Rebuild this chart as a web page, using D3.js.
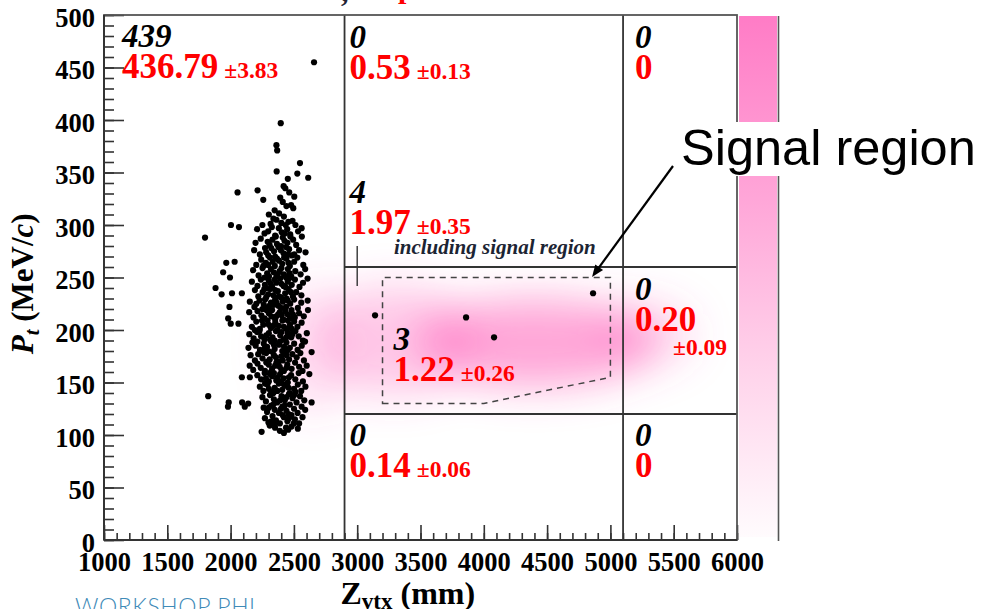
<!DOCTYPE html>
<html>
<head>
<meta charset="utf-8">
<script src="https://cdn.jsdelivr.net/npm/d3@7"></script>
<style>
  html, body { margin: 0; padding: 0; background: #fff; }
  svg { display: block; }
</style>
</head>
<body>
<svg id="chart" width="981" height="609"></svg>
<script>
// ---- axes ----
const zvtxDomain = [1000, 6000];
const ptDomain = [0, 500];
const zvtxTicks = [1000, 1500, 2000, 2500, 3000, 3500, 4000, 4500, 5000, 5500, 6000];
const ptTicks = [0, 50, 100, 150, 200, 250, 300, 350, 400, 450, 500];

// ---- region boundaries (mm, MeV/c) ----
const zvtxCuts = [2900, 5100];
const ptCuts = [120, 260];

// ---- signal region outline ----
const signalRegion = [[3200, 130], [4000, 130], [5000, 155], [5000, 250], [3200, 250]];

// ---- observed / expected per region ----
const regionNames   = ["left", "topMid", "topRight", "midUpper", "signalBox", "midRight", "botMid", "botRight"];
const observedCount = ["439", "0", "0", "4", "3", "0", "0", "0"];
const expectedBkg   = ["436.79", "0.53", "0", "1.97", "1.22", "0.20", "0.14", "0"];
const expectedErr   = ["\u00b13.83", "\u00b10.13", "", "\u00b10.35", "\u00b10.26", "\u00b10.09", "\u00b10.06", ""];

// ---- events in the wide Zvtx region ----
const eventsMid = [[3141, 214], [3860, 212], [4081, 193], [4863, 235]];

// ---- events in the upstream (Zvtx < 2900 mm) region ----
const eventsUpstream = [
  [2659,455],[2396,397],[2362,376],[2368,371],[2364,351],[2548,359],[2527,349],[2613,345],[2452,344],
  [2419,337],[2463,331],[2055,331],[2213,333],[2432,335],[2258,324],[2392,326],[2412,322],[2503,327],
  [2478,319],[2495,316],[2348,314],[2383,311],[2441,318],[2302,310],[2338,306],[2401,302],[2457,303],
  [2512,300],[2489,304],[2251,300],[2003,300],[2066,298],[2421,308],[2362,305],[2316,301],[2435,300],
  [2209,296],[2297,294],[2381,297],[2428,292],[2471,291],[2533,294],[2352,290],[2268,292],[2404,293],
  [2561,297],[2326,298],[2447,296],
  [1798,288],[2238,287],[2293,284],[2331,286],[2366,282],[2412,288],[2449,283],[2494,286],[2518,281],
  [2563,289],[2308,281],[2398,280],[2472,289],[2197,283],[2357,289],[2426,285],
  [2186,276],[2231,272],[2272,278],[2297,271],[2343,275],[2378,279],[2418,273],[2462,277],[2503,272],
  [2541,276],[2592,274],[2352,270],[2438,279],[2281,274],[2484,271],[2397,276],[2321,278],[2454,272],
  [1966,264],[2032,265],[2203,262],[2242,267],[2278,264],[2311,269],[2349,261],[2382,266],[2408,263],
  [2441,268],[2468,261],[2502,265],[2527,269],[2574,262],[2333,265],[2259,261],[2423,269],[2457,264],
  [2366,268],[2296,262],
  [1941,255],[1995,250],[2178,257],[2221,252],[2252,259],[2289,254],[2318,258],[2362,251],[2387,256],
  [2421,253],[2452,258],[2479,251],[2511,256],[2553,253],[2589,258],[2341,255],[2268,250],[2438,250],
  [2402,259],[2303,251],[2466,254],[2372,253],
  [1881,240],[2168,246],[2212,242],[2239,248],[2271,243],[2302,247],[2328,241],[2361,245],[2392,249],
  [2418,242],[2451,246],[2483,243],[2508,248],[2544,241],[2572,245],[2608,249],[2348,248],[2282,240],
  [2462,249],[2401,244],[2317,244],[2433,241],
  [1929,234],[2011,235],[2089,235],[2192,238],[2219,232],[2253,236],[2281,231],[2312,239],[2338,233],
  [2373,237],[2398,231],[2431,235],[2458,239],[2492,232],[2518,236],[2559,233],[2297,234],[2442,230],
  [2382,232],[2352,238],[2266,239],[2476,236],
  [1991,222],[2152,227],[2188,222],[2229,228],[2262,224],[2291,221],[2319,226],[2352,229],[2377,223],
  [2412,227],[2438,222],[2471,225],[2502,229],[2531,221],[2558,226],[2609,228],[2341,224],[2272,229],
  [2452,228],[2398,221],[2203,225],[2363,226],[2426,229],[2306,223],
  [1981,211],[2147,217],[2181,212],[2212,218],[2243,214],[2268,211],[2302,216],[2328,219],[2361,213],
  [2389,217],[2418,210],[2449,215],[2481,219],[2507,212],[2541,216],[2578,213],[2611,219],[2352,210],
  [2283,219],[2432,218],[2251,220],[2403,214],[2468,211],[2322,213],[2376,215],[2492,215],
  [2001,206],[2062,206],[2168,203],[2203,208],[2231,201],[2258,205],[2292,209],[2318,202],[2353,207],
  [2381,204],[2409,209],[2442,201],[2469,205],[2502,208],[2528,203],[2561,207],[2302,205],[2371,200],
  [2421,203],[2248,209],[2483,201],[2338,204],[2452,209],[2191,200],
  [2148,196],[2182,192],[2209,198],[2241,194],[2268,191],[2302,197],[2331,193],[2358,199],[2392,195],
  [2418,191],[2451,197],[2479,193],[2512,199],[2538,194],[2571,190],[2602,197],[2282,195],[2348,190],
  [2402,198],[2441,193],[2312,191],[2488,196],[2228,199],
  [2141,183],[2172,188],[2198,185],[2232,181],[2262,187],[2288,184],[2321,189],[2348,182],[2382,186],
  [2408,180],[2441,188],[2468,183],[2502,187],[2529,181],[2562,185],[2588,189],[2298,180],[2342,186],
  [2422,184],[2271,183],[2391,189],[2452,181],[2212,189],
  [2640,179],[2158,176],[2192,171],[2218,177],[2252,173],[2281,178],[2309,172],[2342,176],[2369,170],
  [2401,175],[2429,179],[2462,172],[2488,177],[2522,174],[2551,178],[2579,171],[2332,179],[2291,170],
  [2412,171],[2441,176],[2262,179],[2358,174],
  [2151,166],[2179,162],[2212,168],[2238,164],[2271,161],[2302,167],[2328,163],[2362,169],[2388,165],
  [2421,161],[2448,167],[2482,163],[2509,169],[2541,165],[2568,161],[2601,166],[2318,160],[2381,170],
  [2442,164],[2282,169],[2402,162],[2352,166],
  [2089,155],[2152,155],[2211,157],[2241,153],[2269,159],[2302,151],[2328,156],[2361,152],[2391,158],
  [2419,154],[2452,150],[2478,157],[2511,153],[2538,159],[2571,151],[2622,158],[2342,159],[2279,154],
  [2401,151],[2461,155],[2311,158],[2372,155],
  [2231,146],[2259,142],[2291,148],[2322,141],[2348,145],[2381,149],[2408,143],[2442,147],[2468,140],
  [2501,144],[2531,148],[2558,142],[2591,146],[2302,144],[2338,140],[2421,148],[2369,142],[2458,145],
  [2272,149],[2512,141],
  [1823,137],[1985,131],[2091,131],[2251,136],[2279,132],[2311,138],[2342,134],[2368,131],[2402,137],
  [2428,133],[2461,139],[2489,135],[2521,131],[2548,137],[2582,133],[2640,131],[2322,139],[2391,133],
  [2441,136],[2502,138],
  [1979,127],[2112,127],[2139,130],[2261,126],[2288,122],[2321,128],[2349,124],[2382,121],[2409,127],
  [2441,123],[2468,129],[2501,125],[2529,121],[2561,127],[2589,124],[2338,129],[2398,125],[2458,120],
  [2302,126],[2428,128],
  [2271,116],[2299,112],[2331,118],[2358,114],[2389,111],[2421,117],[2449,113],[2481,119],[2508,115],
  [2541,111],[2568,117],[2349,110],[2411,119],[2461,116],[2322,113],[2499,111],
  [2245,103],[2455,105],[2351,107],[2389,104],[2481,108],[2421,102],[2309,109],[2531,106],[2438,107]
];

// ---- expected-background density (smoothed) ----
const bkgDensity = [
  { z: 4400, pt: 188, sz: 950, spt: 42, w: 0.5 },
  { z: 3300, pt: 190, sz: 650, spt: 52, w: 0.3 },
  { z: 5250, pt: 196, sz: 400, spt: 30, w: 0.24 },
  { z: 2650, pt: 182, sz: 330, spt: 62, w: 0.16 }
];

// ---- colour scale bar ----
const colorStops = [
  { at: 0.00, c: "#ff7cc6" },
  { at: 0.35, c: "#ffa6d8" },
  { at: 0.70, c: "#ffd6ec" },
  { at: 1.00, c: "#fffbfd" }
];

// ======================================================
const svg = d3.select("#chart");
const serif = "'Liberation Serif', 'Times New Roman', serif";

const x = d3.scaleLinear().domain(zvtxDomain).range([104, 737]);
const y = d3.scaleLinear().domain(ptDomain).range([540, 15]);

const defs = svg.append("defs");
const blur = defs.append("filter").attr("id", "haze")
  .attr("x", "-50%").attr("y", "-100%").attr("width", "200%").attr("height", "300%");
blur.append("feGaussianBlur").attr("stdDeviation", 20);

const grad = defs.append("linearGradient").attr("id", "zbar")
  .attr("x1", 0).attr("y1", 0).attr("x2", 0).attr("y2", 1);
colorStops.forEach(s => grad.append("stop").attr("offset", s.at).attr("stop-color", s.c));

// background density haze
svg.append("g").attr("filter", "url(#haze)")
  .selectAll("ellipse").data(bkgDensity).join("ellipse")
  .attr("cx", d => x(d.z)).attr("cy", d => y(d.pt))
  .attr("rx", d => x(d.z + d.sz) - x(d.z))
  .attr("ry", d => y(d.pt) - y(d.pt + d.spt))
  .attr("fill", "#ff4fb2").attr("fill-opacity", d => d.w);

// colour bar
svg.append("rect").attr("x", 739).attr("y", y(500) + 1)
  .attr("width", 38).attr("height", y(0) - y(500) - 4)
  .attr("fill", "url(#zbar)");
svg.append("line").attr("x1", 778.5).attr("x2", 778.5)
  .attr("y1", y(500) + 1).attr("y2", y(0) + 1)
  .attr("stroke", "#555").attr("stroke-width", 1.6);

// region boundary lines
const cuts = svg.append("g").attr("stroke", "#333").attr("stroke-width", 1.8);
zvtxCuts.forEach(z => cuts.append("line")
  .attr("x1", x(z)).attr("x2", x(z)).attr("y1", y(500)).attr("y2", y(0)));
ptCuts.forEach(p => cuts.append("line")
  .attr("x1", x(zvtxCuts[0])).attr("x2", x(6000)).attr("y1", y(p)).attr("y2", y(p)));

// signal region (dashed)
svg.append("path")
  .attr("d", d3.line().x(d => x(d[0])).y(d => y(d[1])).curve(d3.curveLinearClosed)(signalRegion))
  .attr("fill", "none").attr("stroke", "#444").attr("stroke-width", 1.5)
  .attr("stroke-dasharray", "6,5");

// small marker at Zvtx = 3000
svg.append("line").attr("x1", x(3000)).attr("x2", x(3000))
  .attr("y1", y(280)).attr("y2", y(242))
  .attr("stroke", "#333").attr("stroke-width", 1.4);

// events
const dots = svg.append("g").attr("fill", "#000");
dots.selectAll("circle.up").data(eventsUpstream).join("circle").attr("class", "up")
  .attr("cx", d => x(d[0])).attr("cy", d => y(d[1])).attr("r", 3.1);
dots.selectAll("circle.mid").data(eventsMid).join("circle").attr("class", "mid")
  .attr("cx", d => x(d[0])).attr("cy", d => y(d[1])).attr("r", 3.1);

// axes: ticks point inward
const ptMinor = d3.range(0, 501, 10);
const zMinor = d3.range(1000, 6001, 100);

const yMinor = svg.append("g").attr("transform", `translate(${x(1000)},0)`)
  .call(d3.axisLeft(y).tickValues(ptMinor).tickFormat("").tickSizeInner(-10).tickSizeOuter(0));
const yAxis = svg.append("g").attr("transform", `translate(${x(1000)},0)`)
  .call(d3.axisLeft(y).tickValues(ptTicks).tickFormat(d3.format("d"))
    .tickSizeInner(-20).tickSizeOuter(0).tickPadding(9));
const xMinor = svg.append("g").attr("transform", `translate(0,${y(0)})`)
  .call(d3.axisBottom(x).tickValues(zMinor).tickFormat("").tickSizeInner(-7).tickSizeOuter(0));
const xAxis = svg.append("g").attr("transform", `translate(0,${y(0)})`)
  .call(d3.axisBottom(x).tickValues(zvtxTicks).tickFormat(d3.format("d"))
    .tickSizeInner(-15).tickSizeOuter(0).tickPadding(13));

[yMinor, yAxis, xMinor, xAxis].forEach(g => {
  g.select(".domain").remove();
  g.selectAll("line").attr("stroke", "#333").attr("stroke-width", 1.6);
});
[yAxis, xAxis].forEach(g => g.selectAll("text")
  .attr("font-family", serif).attr("font-weight", "bold").attr("font-size", 26.5).attr("fill", "#000"));
yAxis.selectAll("text").attr("dy", "0.43em");
xAxis.selectAll("text").attr("dy", "0.68em");

// frame
svg.append("rect").attr("x", x(1000)).attr("y", y(500))
  .attr("width", x(6000) - x(1000)).attr("height", y(0) - y(500))
  .attr("fill", "none").attr("stroke", "#555").attr("stroke-width", 1.8);
svg.append("line").attr("x1", x(1000)).attr("x2", x(1000)).attr("y1", y(500)).attr("y2", y(0))
  .attr("stroke", "#333").attr("stroke-width", 2);
svg.append("line").attr("x1", x(1000)).attr("x2", x(6000)).attr("y1", y(0)).attr("y2", y(0))
  .attr("stroke", "#333").attr("stroke-width", 2);

// axis titles
const yTitle = svg.append("text")
  .attr("transform", `translate(33,${y(244)}) rotate(-90)`)
  .attr("text-anchor", "middle").attr("font-family", serif).attr("font-weight", "bold")
  .attr("font-size", 31).attr("fill", "#000");
yTitle.append("tspan").attr("font-style", "italic").text("P");
yTitle.append("tspan").attr("font-style", "italic").attr("font-size", 21).attr("dy", 6).text("t");
yTitle.append("tspan").attr("dy", -6).text(" (MeV/");
yTitle.append("tspan").attr("font-style", "italic").text("c");
yTitle.append("tspan").text(")");

const xTitle = svg.append("text")
  .attr("x", x(3400)).attr("y", 604)
  .attr("text-anchor", "middle").attr("font-family", serif).attr("font-weight", "bold")
  .attr("font-size", 32).attr("fill", "#000");
xTitle.append("tspan").text("Z");
xTitle.append("tspan").attr("font-size", 23).attr("dy", 5).text("vtx");
xTitle.append("tspan").attr("dy", -5).text(" (mm)");

// region labels
const labelLayout = {
  left:      { x: x(1000) + 18, y: y(500) + 32 },
  topMid:    { x: x(zvtxCuts[0]) + 5,  y: y(500) + 33 },
  topRight:  { x: x(zvtxCuts[1]) + 12, y: y(500) + 33 },
  midUpper:  { x: x(zvtxCuts[0]) + 5,  y: y(ptCuts[1]) - 64 },
  signalBox: { x: x(3200) + 11, y: y(ptCuts[1]) + 83 },
  midRight:  { x: x(zvtxCuts[1]) + 12, y: y(ptCuts[1]) + 33, errBelow: true },
  botMid:    { x: x(zvtxCuts[0]) + 5,  y: y(ptCuts[0]) + 32 },
  botRight:  { x: x(zvtxCuts[1]) + 12, y: y(ptCuts[0]) + 32 }
};

const labels = svg.append("g");
regionNames.forEach((name, i) => {
  const L = labelLayout[name];
  labels.append("text").attr("x", L.x).attr("y", L.y)
    .attr("font-family", serif).attr("font-weight", "bold").attr("font-style", "italic")
    .attr("font-size", 33).attr("fill", "#000").text(observedCount[i]);
  const exp = labels.append("text").attr("x", L.x).attr("y", L.y + 31)
    .attr("font-family", serif).attr("font-weight", "bold")
    .attr("font-size", 35).attr("fill", "#ff0000").text(expectedBkg[i]);
  if (expectedErr[i]) {
    const w = exp.node().getComputedTextLength();
    const ex = L.errBelow ? L.x + 38 : L.x + w + 6;
    const ey = L.errBelow ? L.y + 55 : L.y + 31;
    labels.append("text").attr("x", ex).attr("y", ey)
      .attr("font-family", serif).attr("font-weight", "bold")
      .attr("font-size", 23.5).attr("fill", "#ff0000").text(expectedErr[i]);
  }
});

labels.append("text").attr("x", x(3290)).attr("y", y(272))
  .attr("font-family", serif).attr("font-weight", "bold").attr("font-style", "italic")
  .attr("font-size", 21).attr("fill", "#1c2433").text("including signal region");

// signal region annotation
svg.append("rect").attr("x", 679).attr("y", 122).attr("width", 302).attr("height", 54).attr("fill", "#fff");
svg.append("text").attr("x", 681).attr("y", 165)
  .attr("font-family", "'Liberation Sans', Arial, sans-serif").attr("font-size", 50.5)
  .attr("fill", "#000").text("Signal region");

const tip = [x(4855), y(250.5)];
const tail = [673, 166];
const ang = Math.atan2(tip[1] - tail[1], tip[0] - tail[0]);
svg.append("line").attr("x1", tail[0]).attr("y1", tail[1])
  .attr("x2", tip[0] - 6 * Math.cos(ang)).attr("y2", tip[1] - 6 * Math.sin(ang))
  .attr("stroke", "#000").attr("stroke-width", 2.2);
const hl = 13, hw = 0.38;
svg.append("path")
  .attr("d", `M${tip[0]},${tip[1]}`
    + `L${tip[0] - hl * Math.cos(ang - hw)},${tip[1] - hl * Math.sin(ang - hw)}`
    + `L${tip[0] - hl * Math.cos(ang + hw)},${tip[1] - hl * Math.sin(ang + hw)}Z`)
  .attr("fill", "#000");

// heading fragment above the frame
svg.append("text").attr("x", 341).attr("y", 1).attr("font-family", serif).attr("font-weight", "bold")
  .attr("font-size", 30).attr("fill", "#223").text(",");
svg.append("text").attr("x", 398).attr("y", -2).attr("font-family", serif).attr("font-weight", "bold")
  .attr("font-size", 30).attr("fill", "#ff0000").text("p");

// footer
svg.append("text").attr("x", 75).attr("y", 615)
  .attr("font-family", "Lato, 'Open Sans', sans-serif").attr("font-weight", 300)
  .attr("font-size", 23).attr("letter-spacing", 0.6).attr("fill", "#3f8bb8").text("WORKSHOP PHI");
</script>
</body>
</html>
